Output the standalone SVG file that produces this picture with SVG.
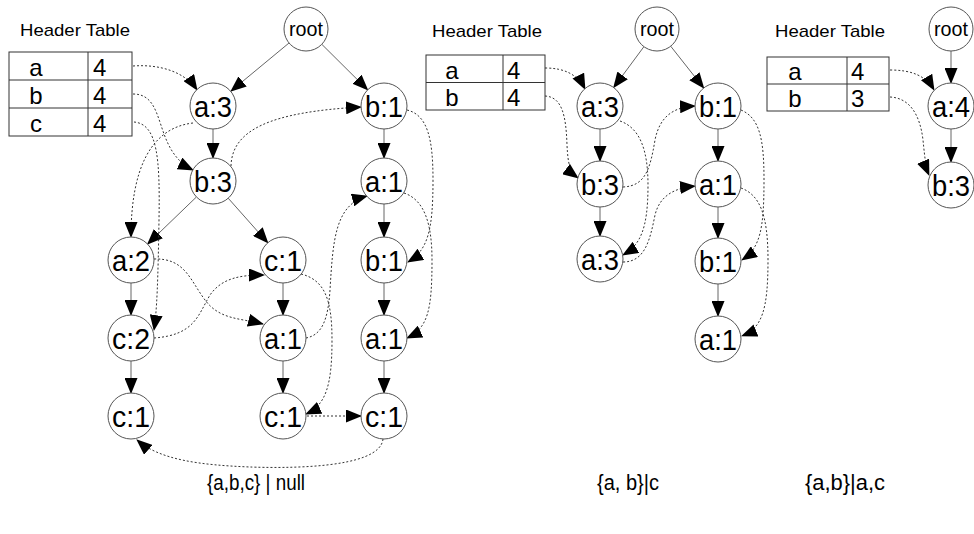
<svg xmlns="http://www.w3.org/2000/svg" width="974" height="534" viewBox="0 0 974 534">
<defs>
<marker id="ah" markerUnits="userSpaceOnUse" markerWidth="16" markerHeight="13" refX="15" refY="6.5" orient="auto">
<path d="M0,0 L16,6.5 L0,13 z" fill="#000"/>
</marker>
<style>
.n circle{fill:#fff;stroke:#555;stroke-width:1}
.n text{font-family:"Liberation Sans",Arial,sans-serif;font-size:30px;text-anchor:middle;fill:#000}
.n text.r{font-size:20px}
.edge{stroke:#666;stroke-width:1;fill:none;marker-end:url(#ah)}
.link{stroke:#333;stroke-width:1;stroke-dasharray:2,2;fill:none;marker-end:url(#ah)}
.tb rect,.tb line{fill:none;stroke:#333;stroke-width:1}
.tb text{font-family:"Liberation Sans",Arial,sans-serif;font-size:24px;fill:#000}
.tb text.k{text-anchor:middle}
.tb text.ht{font-size:17px}
.cap{font-family:"Liberation Sans",Arial,sans-serif;font-size:22px;fill:#000}
</style>
</defs>
<rect width="974" height="534" fill="#fff"/>

<!-- Left header table -->
<g id="header1" class="tb">
<text class="ht" x="20" y="36" textLength="110" lengthAdjust="spacingAndGlyphs">Header Table</text>
<rect x="9" y="52" width="123" height="84"/>
<line x1="88" y1="52" x2="88" y2="136"/>
<line x1="9" y1="80" x2="132" y2="80"/>
<line x1="9" y1="108" x2="132" y2="108"/>
<text class="k" x="36" y="76">a</text><text x="93" y="76">4</text>
<text class="k" x="36" y="104">b</text><text x="93" y="104">4</text>
<text class="k" x="36" y="132">c</text><text x="93" y="132">4</text>
</g>

<!-- Middle header table -->
<g id="header2" class="tb">
<text class="ht" x="432" y="37" textLength="110" lengthAdjust="spacingAndGlyphs">Header Table</text>
<rect x="426" y="55" width="119" height="55"/>
<line x1="503" y1="55" x2="503" y2="110"/>
<line x1="426" y1="82.5" x2="545" y2="82.5"/>
<text class="k" x="452" y="79">a</text><text x="507" y="79">4</text>
<text class="k" x="452" y="106">b</text><text x="507" y="106">4</text>
</g>

<!-- Right header table -->
<g id="header3" class="tb">
<text class="ht" x="775" y="37" textLength="110" lengthAdjust="spacingAndGlyphs">Header Table</text>
<rect x="767" y="57" width="122" height="54"/>
<line x1="847" y1="57" x2="847" y2="111"/>
<line x1="767" y1="84" x2="889" y2="84"/>
<text class="k" x="795" y="80">a</text><text x="851" y="80">4</text>
<text class="k" x="795" y="107">b</text><text x="851" y="107">3</text>
</g>

<g id="connectors">
<!-- left tree edges -->
<line class="edge" x1="289" y1="43" x2="231" y2="91"/>
<line class="edge" x1="322" y1="44.5" x2="367.6" y2="89.8"/>
<line class="edge" x1="213" y1="129" x2="213" y2="158"/>
<line class="edge" x1="196.4" y1="197" x2="147.6" y2="244"/>
<line class="edge" x1="228.2" y1="198.2" x2="267.8" y2="242.8"/>
<line class="edge" x1="384" y1="129" x2="384" y2="158"/>
<line class="edge" x1="384" y1="204" x2="384" y2="237"/>
<line class="edge" x1="384" y1="283" x2="384" y2="315"/>
<line class="edge" x1="384" y1="361" x2="384" y2="393"/>
<line class="edge" x1="131" y1="283" x2="131" y2="315"/>
<line class="edge" x1="131" y1="361" x2="131" y2="393"/>
<line class="edge" x1="283" y1="283" x2="283" y2="315"/>
<line class="edge" x1="283" y1="361" x2="283" y2="393"/>
<!-- left node links -->
<path class="link" d="M133,66 C160,64 185,72 197,90"/>
<path class="link" d="M193,123 C150,128 131,170 131,237"/>
<path class="link" d="M133,94 C168,94 152,150 193,170"/>
<path class="link" d="M134,122 C158,124 160,160 159,220 C158,280 157,310 154,330"/>
<path class="link" d="M231,166 C232,130 270,112 361,107"/>
<path class="link" d="M407,110 C428,115 433,140 433,180 C433,230 428,250 408,262"/>
<path class="link" d="M404,193 C425,200 432,225 432,260 C432,310 428,328 407,338"/>
<path class="link" d="M154,259 C185,258 190,280 205,300 C220,320 240,318 263,324"/>
<path class="link" d="M154,338 C195,335 198,315 210,295 C222,278 240,275 264,275"/>
<path class="link" d="M301,274 C325,280 332,300 332,340 C332,385 326,405 306,414"/>
<path class="link" d="M306,338 C322,335 328,320 330,290 C333,240 335,205 367,196"/>
<path class="link" d="M307,416 L361,416"/>
<path class="link" d="M383,439 C380,470 280,468 250,467 C200,465 160,460 137,440"/>

<!-- middle tree edges -->
<line class="edge" x1="643.9" y1="46.7" x2="613.7" y2="87.5"/>
<line class="edge" x1="670.7" y1="46.2" x2="703.7" y2="88"/>
<line class="edge" x1="600" y1="129" x2="600" y2="161"/>
<line class="edge" x1="600" y1="207" x2="600" y2="236"/>
<line class="edge" x1="718" y1="129" x2="718" y2="161"/>
<line class="edge" x1="718" y1="207" x2="718" y2="238"/>
<line class="edge" x1="718" y1="284" x2="718" y2="316"/>
<!-- middle node links -->
<path class="link" d="M545,68 C565,68 578,75 585,89"/>
<path class="link" d="M545,96 C562,97 566,115 567,145 C568,165 570,172 578,178"/>
<path class="link" d="M620,121 C640,128 648,150 648,185 C648,230 640,245 623,255"/>
<path class="link" d="M623,187 C645,186 650,170 655,140 C660,115 675,107 695,106"/>
<path class="link" d="M623,262 C645,262 650,240 655,215 C660,195 675,188 695,186"/>
<path class="link" d="M741,110 C760,118 764,140 764,180 C764,230 760,248 742,260"/>
<path class="link" d="M741,188 C760,195 768,215 768,260 C768,310 762,328 742,336"/>

<!-- right tree edges -->
<line class="edge" x1="951" y1="51" x2="951" y2="83"/>
<line class="edge" x1="951" y1="129" x2="951" y2="162"/>
<!-- right node links -->
<path class="link" d="M890,70 C912,70 926,76 934,90"/>
<path class="link" d="M890,97 C910,98 920,115 923,140 C925,160 926,168 929,175"/>
</g>

<!-- left tree nodes -->
<g id="root1" class="n"><circle cx="306" cy="29" r="22"/><text class="r" x="306" y="36" textLength="34" lengthAdjust="spacingAndGlyphs">root</text></g>
<g id="L_a3" class="n"><circle cx="213" cy="106" r="23"/><text x="213" y="117" textLength="38" lengthAdjust="spacingAndGlyphs">a:3</text></g>
<g id="L_b3" class="n"><circle cx="213" cy="181" r="23"/><text x="213" y="192" textLength="38" lengthAdjust="spacingAndGlyphs">b:3</text></g>
<g id="L_b1a" class="n"><circle cx="384" cy="106" r="23"/><text x="384" y="117" textLength="38" lengthAdjust="spacingAndGlyphs">b:1</text></g>
<g id="L_a1a" class="n"><circle cx="384" cy="181" r="23"/><text x="384" y="192" textLength="38" lengthAdjust="spacingAndGlyphs">a:1</text></g>
<g id="L_a2" class="n"><circle cx="131" cy="260" r="23"/><text x="131" y="271" textLength="38" lengthAdjust="spacingAndGlyphs">a:2</text></g>
<g id="L_c1a" class="n"><circle cx="283" cy="260" r="23"/><text x="283" y="271" textLength="38" lengthAdjust="spacingAndGlyphs">c:1</text></g>
<g id="L_b1b" class="n"><circle cx="384" cy="260" r="23"/><text x="384" y="271" textLength="38" lengthAdjust="spacingAndGlyphs">b:1</text></g>
<g id="L_c2" class="n"><circle cx="131" cy="338" r="23"/><text x="131" y="349" textLength="38" lengthAdjust="spacingAndGlyphs">c:2</text></g>
<g id="L_a1b" class="n"><circle cx="283" cy="338" r="23"/><text x="283" y="349" textLength="38" lengthAdjust="spacingAndGlyphs">a:1</text></g>
<g id="L_a1c" class="n"><circle cx="384" cy="338" r="23"/><text x="384" y="349" textLength="38" lengthAdjust="spacingAndGlyphs">a:1</text></g>
<g id="L_c1b" class="n"><circle cx="131" cy="416" r="23"/><text x="131" y="427" textLength="38" lengthAdjust="spacingAndGlyphs">c:1</text></g>
<g id="L_c1c" class="n"><circle cx="283" cy="416" r="23"/><text x="283" y="427" textLength="38" lengthAdjust="spacingAndGlyphs">c:1</text></g>
<g id="L_c1d" class="n"><circle cx="384" cy="416" r="23"/><text x="384" y="427" textLength="38" lengthAdjust="spacingAndGlyphs">c:1</text></g>

<!-- middle tree nodes -->
<g id="root2" class="n"><circle cx="657" cy="29" r="22"/><text class="r" x="657" y="36" textLength="34" lengthAdjust="spacingAndGlyphs">root</text></g>
<g id="M_a3" class="n"><circle cx="600" cy="106" r="23"/><text x="600" y="117" textLength="38" lengthAdjust="spacingAndGlyphs">a:3</text></g>
<g id="M_b3" class="n"><circle cx="600" cy="184" r="23"/><text x="600" y="195" textLength="38" lengthAdjust="spacingAndGlyphs">b:3</text></g>
<g id="M_a3b" class="n"><circle cx="600" cy="259" r="23"/><text x="600" y="270" textLength="38" lengthAdjust="spacingAndGlyphs">a:3</text></g>
<g id="M_b1" class="n"><circle cx="718" cy="106" r="23"/><text x="718" y="117" textLength="38" lengthAdjust="spacingAndGlyphs">b:1</text></g>
<g id="M_a1" class="n"><circle cx="718" cy="184" r="23"/><text x="718" y="195" textLength="38" lengthAdjust="spacingAndGlyphs">a:1</text></g>
<g id="M_b1b" class="n"><circle cx="718" cy="261" r="23"/><text x="718" y="272" textLength="38" lengthAdjust="spacingAndGlyphs">b:1</text></g>
<g id="M_a1b" class="n"><circle cx="718" cy="339" r="23"/><text x="718" y="350" textLength="38" lengthAdjust="spacingAndGlyphs">a:1</text></g>

<!-- right tree nodes -->
<g id="root3" class="n"><circle cx="951" cy="29" r="22"/><text class="r" x="951" y="36" textLength="34" lengthAdjust="spacingAndGlyphs">root</text></g>
<g id="R_a4" class="n"><circle cx="951" cy="106" r="23"/><text x="951" y="117" textLength="38" lengthAdjust="spacingAndGlyphs">a:4</text></g>
<g id="R_b3" class="n"><circle cx="951" cy="185" r="23"/><text x="951" y="196" textLength="38" lengthAdjust="spacingAndGlyphs">b:3</text></g>

<text class="cap" x="207" y="490" textLength="98" lengthAdjust="spacingAndGlyphs">{a,b,c} | null</text>
<text class="cap" x="597" y="490" textLength="62" lengthAdjust="spacingAndGlyphs">{a, b}|c</text>
<text class="cap" x="805" y="490" textLength="80" lengthAdjust="spacingAndGlyphs">{a,b}|a,c</text>
</svg>
